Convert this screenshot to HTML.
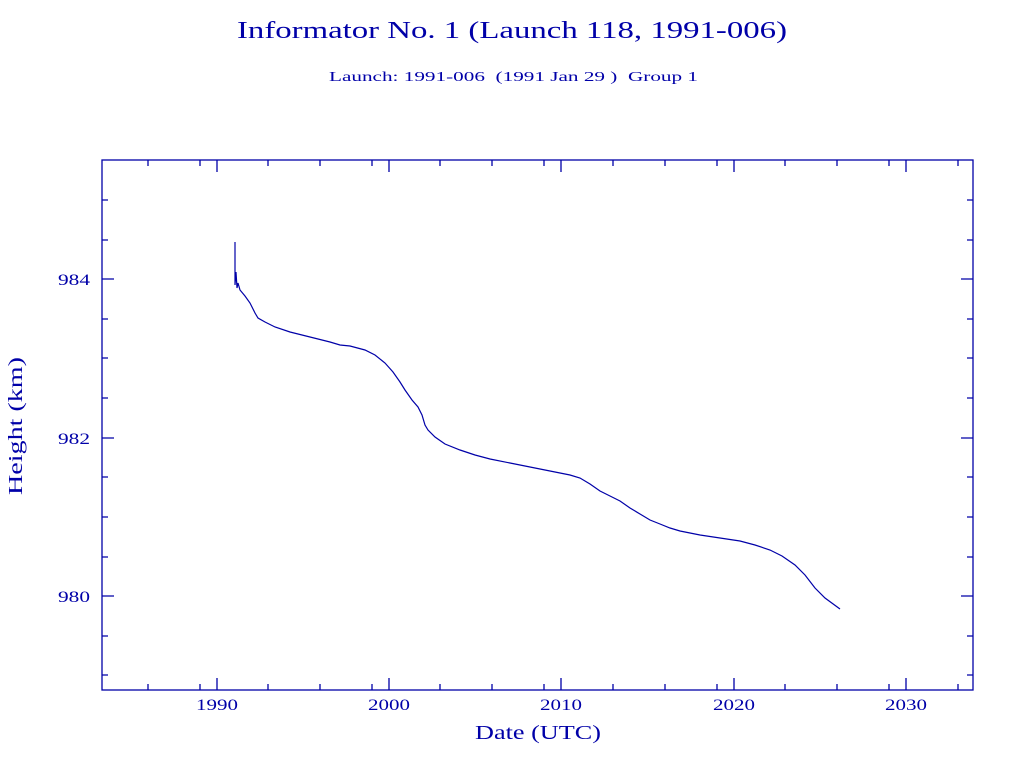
<!DOCTYPE html>
<html><head><style>
html,body{margin:0;padding:0;background:#fff;}
svg{display:block;}
text{font-family:"Liberation Serif","DejaVu Serif",serif;fill:#0000a8;}
</style></head><body>
<svg width="1024" height="768" viewBox="0 0 1024 768" xmlns="http://www.w3.org/2000/svg">
<text x="237" y="38" font-size="24" textLength="550" lengthAdjust="spacingAndGlyphs">Informator No. 1 (Launch 118, 1991-006)</text>
<text x="329" y="81" font-size="14" textLength="369" lengthAdjust="spacingAndGlyphs" xml:space="preserve">Launch: 1991-006  (1991 Jan 29 )  Group 1</text>
<g stroke="#0000a8" stroke-width="1.3" fill="none">
<rect x="102" y="160" width="871" height="530"/>
<path d="M217,160v12M389,160v12M561,160v12M734,160v12M906,160v12M217,690v-12M389,690v-12M561,690v-12M734,690v-12M906,690v-12
M148,160v6M200,160v6M268,160v6M320,160v6M372,160v6M440,160v6M492,160v6M544,160v6M613,160v6M665,160v6M717,160v6M785,160v6M837,160v6M889,160v6M958,160v6
M148,690v-6M200,690v-6M268,690v-6M320,690v-6M372,690v-6M440,690v-6M492,690v-6M544,690v-6M613,690v-6M665,690v-6M717,690v-6M785,690v-6M837,690v-6M889,690v-6M958,690v-6
M102,279h12M102,438h12M102,596h12M973,279h-12M973,438h-12M973,596h-12
M102,200h6M102,240h6M102,319h6M102,358h6M102,398h6M102,477h6M102,517h6M102,557h6M102,636h6M102,675h6
M973,200h-6M973,240h-6M973,319h-6M973,358h-6M973,398h-6M973,477h-6M973,517h-6M973,557h-6M973,636h-6M973,675h-6"/>
<polyline stroke-width="1.2" points="235,242 235,285 236,272 237,288 238,283 240,290 245,296 250,303 255,313 258,318 265,322 275,327 290,332 310,337 330,342 340,345 350,346 365,350 375,355 385,363 393,372 400,382 405,390 412,400 418,407 422,415 425,425 428,430 435,437 445,444 460,450 475,455 490,459 510,463 530,467 550,471 570,475 580,478 590,484 600,491 610,496 620,501 630,508 640,514 650,520 660,524 670,528 680,531 700,535 720,538 740,541 755,545 770,550 782,556 795,565 805,575 815,588 825,598 840,609"/>
</g>
<g font-size="16">
<text x="196" y="710" textLength="42" lengthAdjust="spacingAndGlyphs">1990</text><text x="368" y="710" textLength="42" lengthAdjust="spacingAndGlyphs">2000</text><text x="540" y="710" textLength="42" lengthAdjust="spacingAndGlyphs">2010</text><text x="713" y="710" textLength="42" lengthAdjust="spacingAndGlyphs">2020</text><text x="885" y="710" textLength="42" lengthAdjust="spacingAndGlyphs">2030</text>
<text x="58" y="285" textLength="32" lengthAdjust="spacingAndGlyphs">984</text><text x="58" y="444" textLength="32" lengthAdjust="spacingAndGlyphs">982</text><text x="58" y="602" textLength="32" lengthAdjust="spacingAndGlyphs">980</text>
</g>
<text x="475" y="739" font-size="20" textLength="126" lengthAdjust="spacingAndGlyphs">Date (UTC)</text>
<text transform="translate(22,495) rotate(-90)" font-size="20" textLength="138" lengthAdjust="spacingAndGlyphs">Height (km)</text>
</svg>
</body></html>
